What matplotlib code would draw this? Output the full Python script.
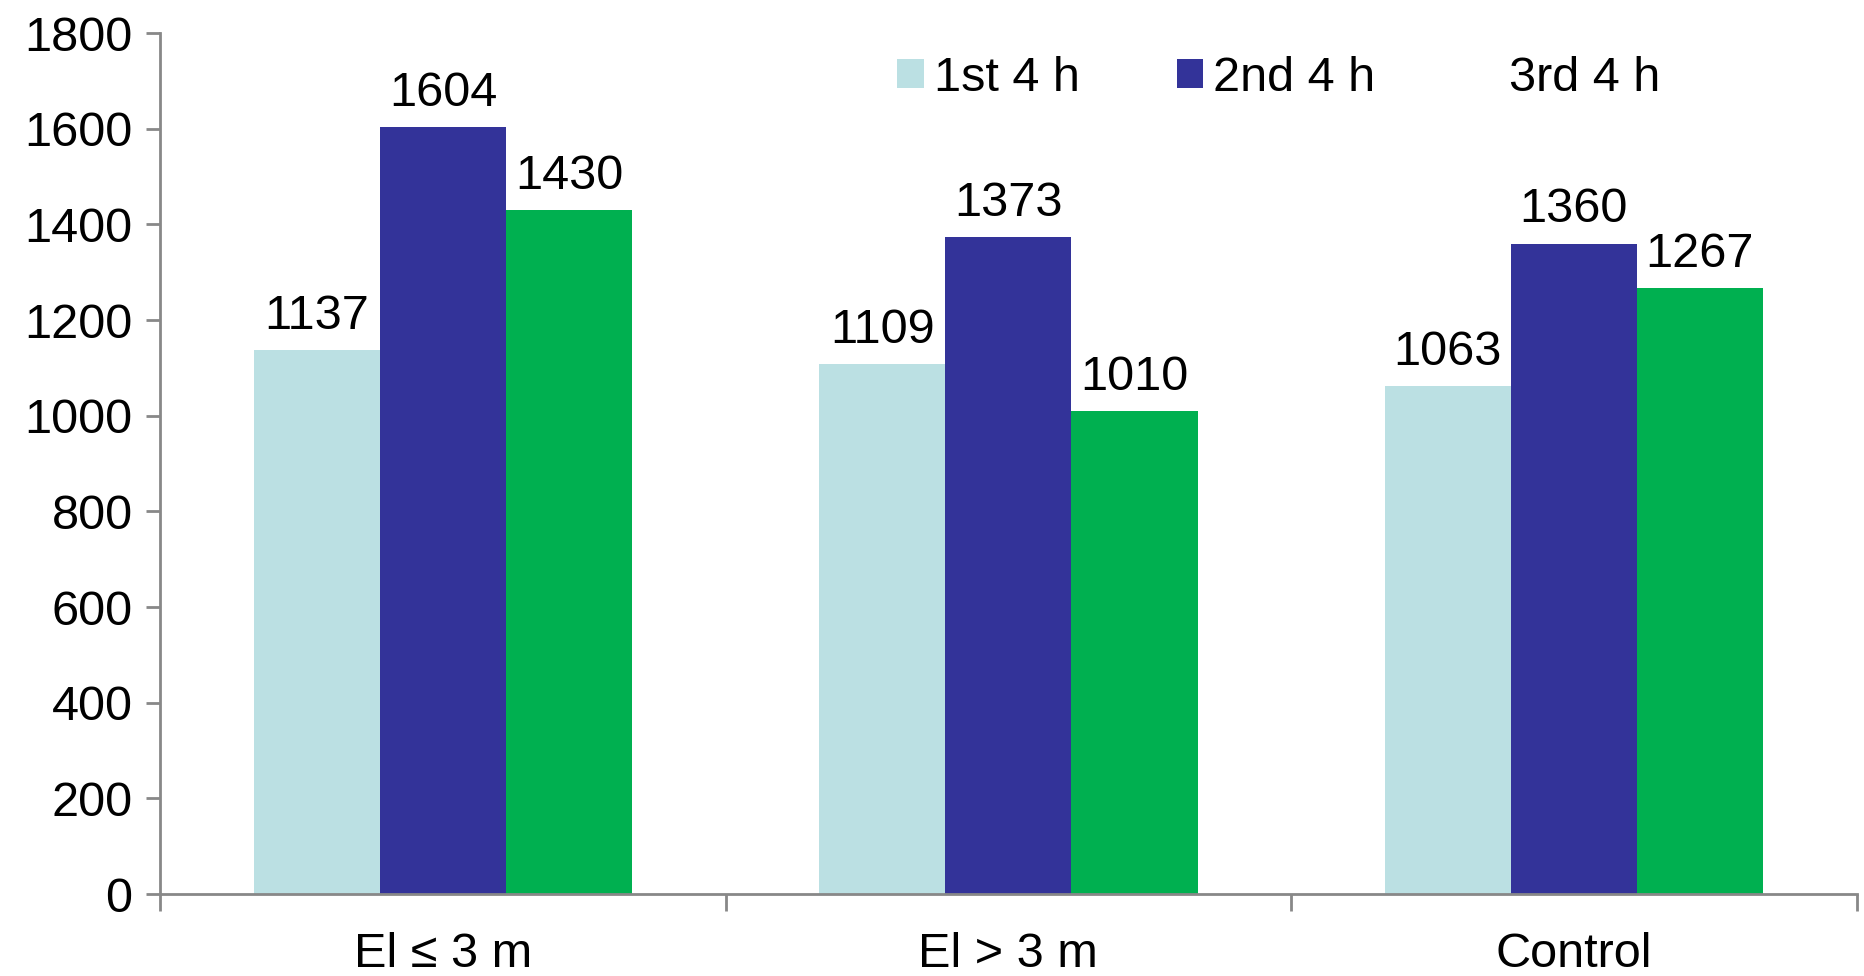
import matplotlib.pyplot as plt
import numpy as np

categories = ['El \u2264 3 m', 'El > 3 m', 'Control']
first = [1137, 1109, 1063]
second = [1604, 1373, 1360]
third = [1430, 1010, 1267]
series_names = ['1st 4 h', '2nd 4 h', '3rd 4 h']
colors = ['#BBE0E3', '#333399', '#00B050']

plt.rcParams['font.family'] = ['Liberation Sans', 'DejaVu Sans']
plt.rcParams['font.size'] = 35

fig = plt.figure(figsize=(18.64, 9.76), dpi=100)
ax = fig.add_axes([0.086, 0.084, 0.91, 0.882])

x = np.arange(len(categories))
w = 0.223
for i, vals in enumerate([first, second, third]):
    bars = ax.bar(x + (i - 1) * w, vals, w, color=colors[i], label=series_names[i])
    for b, v in zip(bars, vals):
        ax.annotate(str(v), (b.get_x() + b.get_width() / 2, v), xytext=(0, 8),
                    textcoords='offset points', ha='center', va='bottom', fontsize=35)

ax.set_xlim(-0.5, 2.5)
ax.set_ylim(0, 1800)
ax.set_yticks(range(0, 1801, 200))
ax.set_xticks([-0.5, 0.5, 1.5, 2.5])
ax.set_xticklabels([])
ax.set_xticks(x, minor=True)
ax.set_xticklabels(categories, minor=True)
ax.tick_params(axis='x', which='minor', length=0, pad=27)
ax.tick_params(axis='x', which='major', length=12, width=2, color='#888888')
ax.tick_params(axis='y', length=10, width=2, color='#888888', pad=10)
for s in ['top', 'right']:
    ax.spines[s].set_visible(False)
for s in ['left', 'bottom']:
    ax.spines[s].set_color('#888888')
    ax.spines[s].set_linewidth(2)

leg = ax.legend(loc='center', bbox_to_anchor=(0.686, 0.92), bbox_transform=fig.transFigure,
                ncol=3, frameon=False, handlelength=0.55, handleheight=0.55,
                handletextpad=0.2, columnspacing=2.0, fontsize=35)
leg.legend_handles[2].set_color('white')

plt.savefig('out.png')
